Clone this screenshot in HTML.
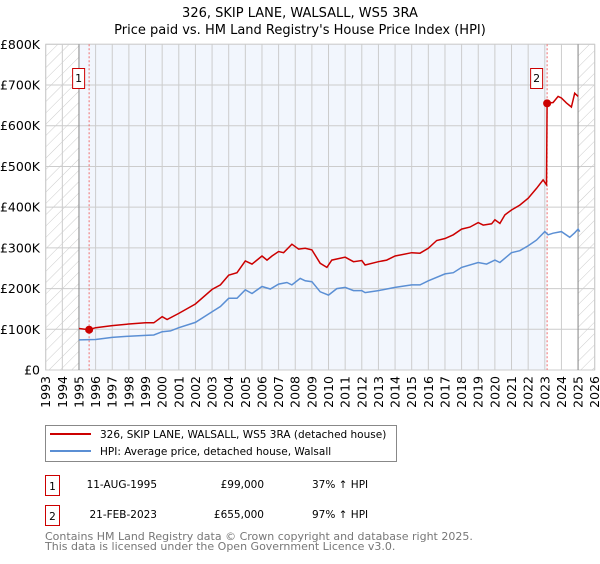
<!DOCTYPE html>
<html><head><meta charset="utf-8"><style>
body{margin:0;background:#fff;font-family:"DejaVu Sans","Liberation Sans",sans-serif;}
svg text{font-family:"DejaVu Sans","Liberation Sans",sans-serif;}
</style></head><body>
<svg id="chart" width="600" height="560" viewBox="0 0 600 560" xmlns="http://www.w3.org/2000/svg">
<defs><pattern id="hatch" width="8" height="8" patternUnits="userSpaceOnUse" patternTransform="rotate(45)"><line x1="0" y1="0" x2="0" y2="8" stroke="#ccc" stroke-width="1"/></pattern></defs>
<text x="300" y="17" text-anchor="middle" font-size="13">326, SKIP LANE, WALSALL, WS5 3RA</text>
<text x="300" y="34" text-anchor="middle" font-size="13">Price paid vs. HM Land Registry's House Price Index (HPI)</text>
<g id="plot"></g>
<g>
<rect x="45.5" y="425.5" width="351" height="36" fill="#fff" stroke="#888"/>
<line x1="50" y1="434" x2="91" y2="434" stroke="#cc0000" stroke-width="2"/>
<text x="100" y="438" font-size="10.5">326, SKIP LANE, WALSALL, WS5 3RA (detached house)</text>
<line x1="50" y1="451" x2="91" y2="451" stroke="#5b8fd4" stroke-width="2"/>
<text x="100" y="455" font-size="10.5">HPI: Average price, detached house, Walsall</text>
</g>
<g font-size="10.5">
<rect x="45.5" y="475.5" width="14" height="20" fill="#fff" stroke="#cc0000"/><text x="52.5" y="490" text-anchor="middle">1</text>
<text x="157" y="488" text-anchor="end">11-AUG-1995</text><text x="264" y="488" text-anchor="end">£99,000</text><text x="312" y="488">37% ↑ HPI</text>
<rect x="45.5" y="505.5" width="14" height="20" fill="#fff" stroke="#cc0000"/><text x="52.5" y="520" text-anchor="middle">2</text>
<text x="157" y="518" text-anchor="end">21-FEB-2023</text><text x="264" y="518" text-anchor="end">£655,000</text><text x="312" y="518">97% ↑ HPI</text>
</g>
<text x="45" y="540" font-size="11" fill="#777">Contains HM Land Registry data © Crown copyright and database right 2025.</text>
<text x="45" y="550" font-size="11" fill="#777">This data is licensed under the Open Government Licence v3.0.</text>
</svg>
<script>
const yTicks=[0,100000,200000,300000,400000,500000,600000,700000,800000];
const yTickLabels=["£0","£100K","£200K","£300K","£400K","£500K","£600K","£700K","£800K"];
const xYears=[1993,1994,1995,1996,1997,1998,1999,2000,2001,2002,2003,2004,2005,2006,2007,2008,2009,2010,2011,2012,2013,2014,2015,2016,2017,2018,2019,2020,2021,2022,2023,2024,2025,2026];
const hpiDates=[1995,1996,1997,1998,1999,1999.5,2000,2000.5,2001,2002,2003,2003.5,2004,2004.5,2005,2005.4,2006,2006.5,2007,2007.5,2007.8,2008.3,2008.6,2009,2009.5,2010,2010.5,2011,2011.5,2012,2012.2,2013,2014,2015,2015.5,2016,2017,2017.5,2018,2019,2019.5,2020,2020.3,2021,2021.5,2022,2022.5,2023,2023.2,2023.5,2024,2024.5,2024.8,2025,2025.1];
const hpiValues=[74000,75000,80000,83000,85000,86000,94000,96000,104000,117000,143000,156000,176000,176000,197000,188000,205000,199000,211000,215000,209000,225000,219000,217000,192000,184000,200000,203000,195000,195000,190000,195000,203000,209000,209000,219000,236000,239000,252000,264000,260000,270000,264000,288000,293000,305000,319000,340000,332000,336000,340000,326000,337000,346000,340000];
const priceDates=[1995,1995.6,1996,1997,1998,1999,1999.5,2000,2000.3,2001,2002,2003,2003.5,2004,2004.5,2005,2005.4,2006,2006.3,2006.6,2007,2007.3,2007.8,2008.2,2008.6,2009,2009.5,2009.9,2010.2,2011,2011.5,2012,2012.2,2013,2013.5,2014,2015,2015.5,2016,2016.5,2017,2017.5,2018,2018.5,2019,2019.3,2019.8,2020,2020.3,2020.6,2021,2021.5,2022,2022.5,2022.9,2023.1,2023.14,2023.5,2023.8,2024,2024.3,2024.6,2024.8,2025];
const priceValues=[102000,99000,104000,109000,113000,116000,116000,131000,124000,139000,162000,198000,209000,233000,239000,268000,260000,280000,270000,280000,291000,288000,309000,297000,299000,295000,262000,252000,270000,277000,266000,269000,258000,266000,270000,280000,288000,287000,299000,318000,323000,332000,346000,351000,362000,356000,359000,369000,360000,381000,393000,405000,422000,446000,467000,455000,655000,657000,672000,668000,656000,646000,680000,672000];
const saleDates=[1995.61,2023.14];
const salePrices=[99000,655000];
const saleLabels=["1","2"];

const X0=45.7,X1=594.7,Y0=370,Y1=44.3,xMin=1993,xMax=2026,yMax=800000;
const xs=t=>X0+(t-xMin)/(xMax-xMin)*(X1-X0);
const ys=v=>Y0-(v/yMax)*(Y0-Y1);
const NS="http://www.w3.org/2000/svg";
const plot=document.getElementById('plot');
function mk(tag,attrs,parent){const e=document.createElementNS(NS,tag);for(const k in attrs)e.setAttribute(k,attrs[k]);(parent||plot).appendChild(e);return e;}
let e;
e=mk('rect',{x:X0,y:Y1,width:X1-X0,height:Y0-Y1,fill:'#fff',stroke:'#ccc'});


e=mk('rect',{x:xs(1995),y:Y1,width:xs(saleDates[1])-xs(1995),height:Y0-Y1,fill:'#f2f6fd'});


e=mk('rect',{x:X0,y:Y1,width:xs(1995)-X0,height:Y0-Y1,fill:'url(#hatch)'});


e=mk('rect',{x:xs(2025),y:Y1,width:X1-xs(2025),height:Y0-Y1,fill:'url(#hatch)'});


yTicks.forEach((v,i)=>{
 e=mk('line',{x1:X0,x2:X1,y1:ys(v),y2:ys(v),stroke:'#ccc','stroke-width':1});
 
 
 e=mk('text',{x:40,y:ys(v)+4.5,'text-anchor':'end','font-size':12.5});
 e.textContent=yTickLabels[i];
 
 
});
xYears.forEach(yr=>{
 e=mk('line',{x1:xs(yr),x2:xs(yr),y1:Y1,y2:Y0,stroke:'#ccc','stroke-width':1});
 
 
 e=mk('text',{x:0,y:0,'text-anchor':'end','font-size':12.5,transform:`translate(${xs(yr)+4.5},376) rotate(-90)`});
 e.textContent=yr;
 
 
});
[1995,2025].forEach(yr=>{
 e=mk('line',{x1:xs(yr),x2:xs(yr),y1:Y1,y2:Y0,stroke:'#888','stroke-width':1});
 
 
});
saleDates.forEach(d=>{
 e=mk('line',{x1:xs(d),x2:xs(d),y1:Y1,y2:Y0,stroke:'#f07070','stroke-width':1,'stroke-dasharray':'2,2'});
 
 
});
const path=(xsArr,vs)=>xsArr.map((t,i)=>(i?'L':'M')+xs(t).toFixed(1)+','+ys(vs[i]).toFixed(1)).join('');
e=mk('path',{d:path(hpiDates,hpiValues),fill:'none',stroke:'#5b8fd4','stroke-width':1.5});


e=mk('path',{d:path(priceDates,priceValues),fill:'none',stroke:'#cc0000','stroke-width':1.5});


saleDates.forEach((d,i)=>{
 e=mk('circle',{cx:xs(d),cy:ys(salePrices[i]),r:4,fill:'#cc0000'});
 
 
 const bx=xs(d)-17;
 e=mk('rect',{x:bx+0.5,y:68.5,width:12,height:20,fill:'#fff',stroke:'#cc0000'});
 
 
 e=mk('text',{x:bx+6.5,y:82,'text-anchor':'middle','font-size':11});
 e.textContent=saleLabels[i];
 
 
});
</script>
</body></html>
